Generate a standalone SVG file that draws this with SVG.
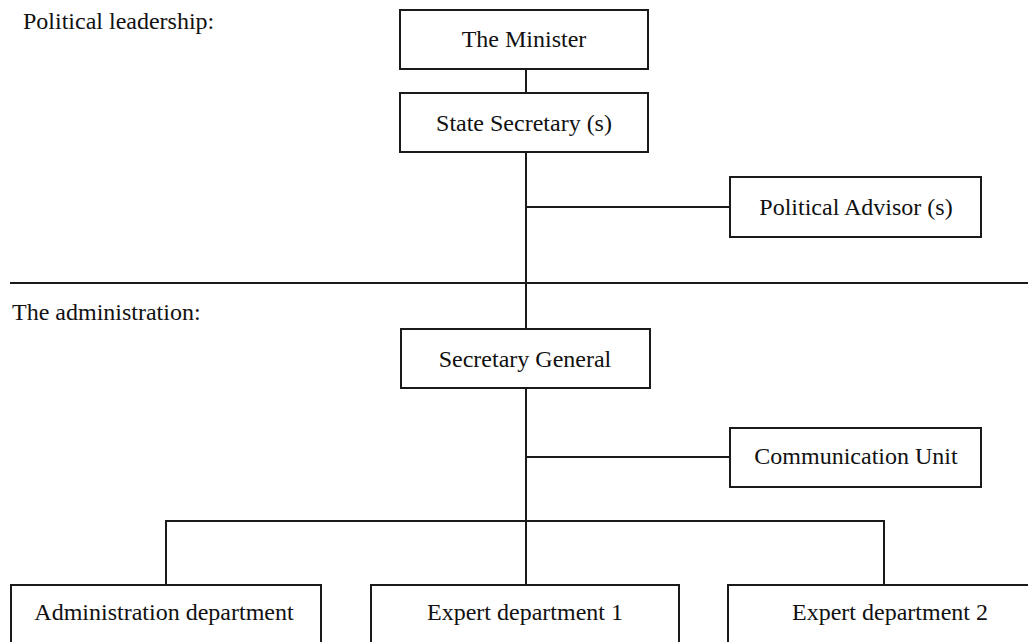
<svg xmlns="http://www.w3.org/2000/svg" width="1028" height="642" viewBox="0 0 1028 642">
<style>
.box{fill:#fff;stroke:#1a1a1a;stroke-width:2}
.ln{fill:none;stroke:#1a1a1a;stroke-width:2}
text{font-family:"Liberation Serif","Times New Roman",serif;font-size:24px;fill:#111}
.c{text-anchor:middle}
</style>
<rect width="1028" height="642" fill="#fff"/>
<g id="labels">
<text x="23" y="29">Political leadership:</text>
<text x="12" y="320">The administration:</text>
</g>
<g id="connectors">
<line class="ln" x1="10" y1="283" x2="1028" y2="283"/>
<line class="ln" x1="526" y1="69" x2="526" y2="93"/>
<line class="ln" x1="526" y1="152" x2="526" y2="329"/>
<line class="ln" x1="526" y1="207" x2="730" y2="207"/>
<line class="ln" x1="526" y1="388" x2="526" y2="585"/>
<line class="ln" x1="526" y1="457" x2="730" y2="457"/>
<polyline class="ln" points="166,585 166,521 884,521 884,585"/>
</g>
<g id="minister"><rect class="box" x="400" y="10" width="248" height="59"/><text class="c" x="524" y="47">The Minister</text></g>
<g id="state-secretary"><rect class="box" x="400" y="93" width="248" height="59"/><text class="c" x="524" y="131">State Secretary (s)</text></g>
<g id="political-advisor"><rect class="box" x="730" y="177" width="251" height="60"/><text class="c" x="856" y="215">Political Advisor (s)</text></g>
<g id="secretary-general"><rect class="box" x="401" y="329" width="249" height="59"/><text class="c" x="525" y="367">Secretary General</text></g>
<g id="communication-unit"><rect class="box" x="730" y="428" width="251" height="59"/><text class="c" x="856" y="464">Communication Unit</text></g>
<g id="administration-department"><rect class="box" x="11" y="585" width="310" height="80"/><text class="c" x="164" y="620">Administration department</text></g>
<g id="expert-department-1"><rect class="box" x="371" y="585" width="308" height="80"/><text class="c" x="525" y="620">Expert department 1</text></g>
<g id="expert-department-2"><rect class="box" x="728" y="585" width="324" height="80"/><text class="c" x="890" y="620">Expert department 2</text></g>
</svg>
